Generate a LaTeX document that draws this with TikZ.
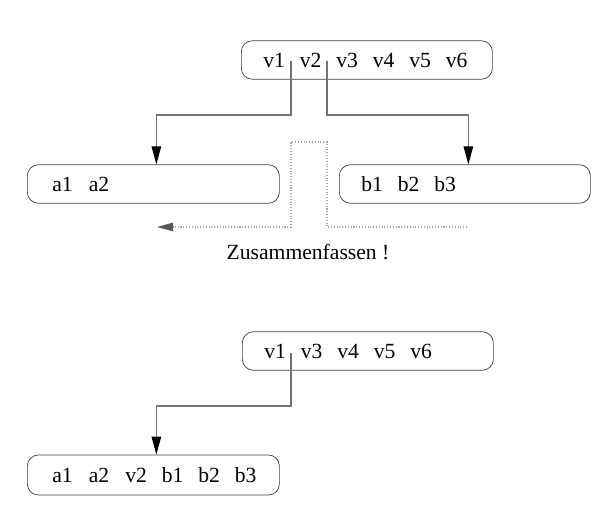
\documentclass[tikz,border=0pt]{standalone}
\usepackage{fontspec}
\setmainfont{Liberation Serif}
\usepackage{tikz}
\usetikzlibrary{arrows.meta}
\usepackage{xcolor}

\newcommand{\tok}[1]{\makebox[7.3mm][l]{#1}}
\tikzset{
  box/.style={draw=black!75, rectangle, rounded corners=2.2mm, minimum height=7.7mm,
    inner xsep=4.4mm, text width=41.4mm, align=left, anchor=west,
    font=\fontsize{12.3}{14}\selectfont},
  conn/.style={draw=black!55, line width=0.6pt,
    -{Triangle[length=3.6mm, width=1.9mm, color=black]}},
  merge/.style={draw=black!35, densely dotted, line width=0.6pt,
    -{Triangle[length=3.2mm, width=1.7mm, color=black!65]}},
}

\begin{document}
\begin{tikzpicture}[x=0.2mm, y=-0.2mm]
\useasboundingbox (0,0) rectangle (614,513);
% before
\node[box] (V) at (241,60) {\tok{v1}\tok{v2}\tok{v3}\tok{v4}\tok{v5}v6};
\node[box, inner xsep=5mm, text width=40.4mm] (A) at (27,184) {\tok{a1}a2};
\node[box] (B) at (339,184) {\tok{b1}\tok{b2}b3};
\coordinate (V12) at (291,61);
\coordinate (V23) at (327,61);

\draw[conn] (V12) -- ++(0,54) -| ([xshift=0.6mm]A.north);
\draw[conn] (V23) -- ++(0,54) -| ([xshift=0.7mm]B.north);

% zusammenfassen
\coordinate (M1) at (467,227);
\coordinate (M2) at (157,227);
\draw[merge] (M1) -| (327,142) -| (291,227) -- (M2);
\node[font=\fontsize{12.3}{14}\selectfont] (Z) at (308,252) {Zusammenfassen !};

% after
\node[box] (W) at (242,351) {\tok{v1}\tok{v3}\tok{v4}\tok{v5}v6};
\node[box, inner xsep=5mm, text width=40.4mm, minimum height=8mm] (C) at (27,475)
  {\tok{a1}\tok{a2}\tok{v2}\tok{b1}\tok{b2}b3};
\coordinate (W13) at (291,353);

\draw[conn] (W13) -- ++(0,53) -| ([xshift=0.6mm]C.north);
\end{tikzpicture}
\end{document}
